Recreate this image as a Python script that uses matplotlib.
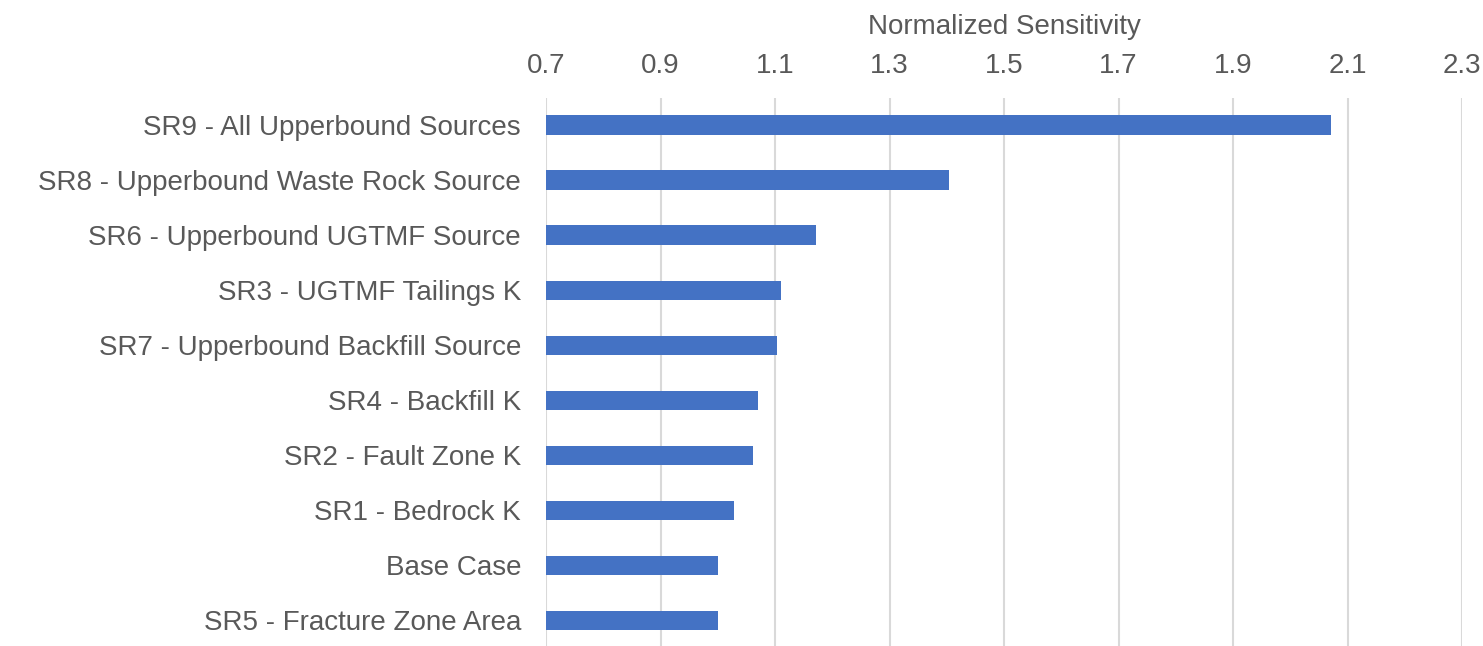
import matplotlib.pyplot as plt
import numpy as np

# categories listed top to bottom, as in the chart
labels = ["SR9 - All Upperbound Sources",
          "SR8 - Upperbound Waste Rock Source",
          "SR6 - Upperbound UGTMF Source",
          "SR3 - UGTMF Tailings K",
          "SR7 - Upperbound Backfill Source",
          "SR4 - Backfill K",
          "SR2 - Fault Zone K",
          "SR1 - Bedrock K",
          "Base Case",
          "SR5 - Fracture Zone Area"]
values = [2.072, 1.404, 1.171, 1.111, 1.104, 1.070, 1.062, 1.029, 1.0, 1.0]
xticks = [0.7, 0.9, 1.1, 1.3, 1.5, 1.7, 1.9, 2.1, 2.3]

plt.rcParams['font.family'] = ['Liberation Sans', 'DejaVu Sans']
grey = "#595959"
fs = 20

fig = plt.figure(figsize=(14.83, 6.46), dpi=100)
ax = fig.add_axes([546/1483, -0.003, (1462-546)/1483, 1 - 97.5/646 + 0.003])

y = np.arange(len(labels))
ax.barh(y, np.array(values) - 0.7, left=0.7, height=0.35, color="#4472C4", zorder=3)

ax.set_ylim(len(labels) - 0.5, -0.5)
ax.set_xlim(0.7, 2.3)
ax.set_yticks(y)
ax.set_yticklabels(labels, fontsize=fs, color=grey)
ax.set_xticks(xticks)
ax.set_xticklabels([f"{t:.1f}" for t in xticks], fontsize=fs, color=grey)
ax.xaxis.tick_top()
ax.xaxis.set_label_position("top")
ax.set_xlabel("Normalized Sensitivity", fontsize=fs, color=grey, labelpad=14)
ax.tick_params(axis="both", length=0)
ax.tick_params(axis="x", pad=13)
ax.tick_params(axis="y", pad=18)
ax.grid(axis="x", color="#d9d9d9", linewidth=1.5, zorder=0)
for s in ax.spines.values():
    s.set_visible(False)

fig.savefig("out.png", dpi=100)
